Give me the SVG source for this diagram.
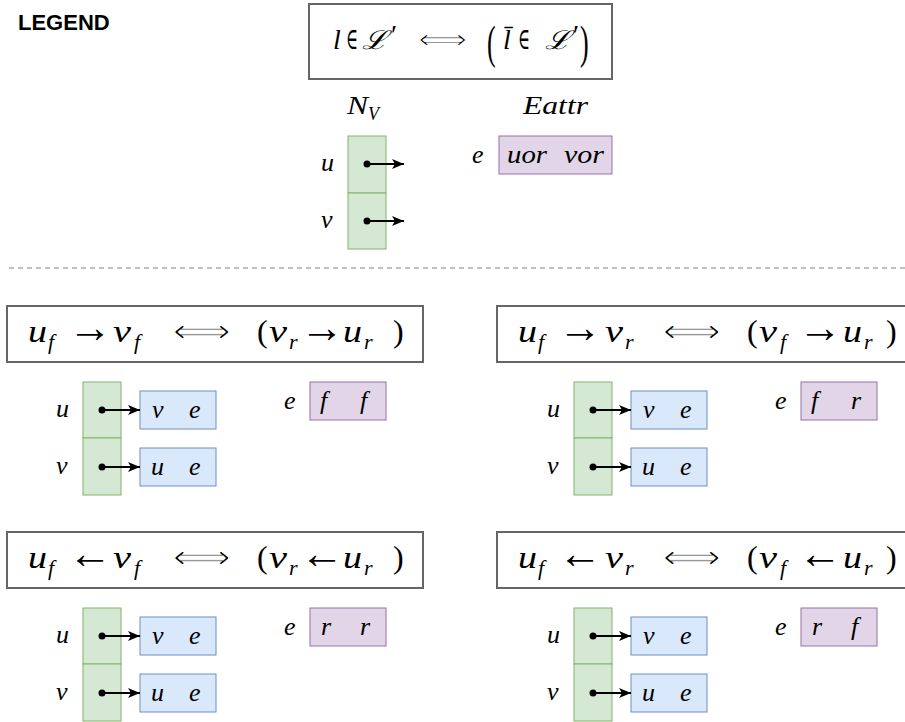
<svg xmlns="http://www.w3.org/2000/svg" width="905" height="722" viewBox="0 0 905 722">
<style>
.bg{fill:#ffffff}
.box{fill:#ffffff;stroke:#666666;stroke-width:2}
.nv{fill:#d5e8d4;stroke:#82b366;stroke-width:1}
.adj{fill:#dae8fc;stroke:#6c8ebf;stroke-width:1}
.attr{fill:#e1d5e7;stroke:#9673a6;stroke-width:1}
.m{font-family:"Liberation Serif","DejaVu Serif",serif;font-style:italic;fill:#000}
.op{font-family:"Liberation Serif","DejaVu Serif",serif;font-style:normal;fill:#000}
.sym{font-family:"DejaVu Sans","Noto Sans",sans-serif;font-style:normal;fill:#000;stroke:#fff;stroke-width:1.1px}
.h{font-size:32px}
.ar{font-size:44px}
.hs{font-size:22px}
.l{font-size:26px}
.leg{font-family:"Liberation Sans",Arial,sans-serif;font-weight:bold;font-size:22px;fill:#000}
.conn{stroke:#000;stroke-width:2;fill:none}
.dot{fill:#000}
.sep{stroke:#808080;stroke-width:1.2;stroke-dasharray:5 4;fill:none}
</style>
<defs>
<marker id="ah" markerWidth="13" markerHeight="11" refX="12" refY="5.5" orient="auto" markerUnits="userSpaceOnUse">
<path d="M0,0.5 L12,5.5 L0,10.5 L3,5.5 Z" fill="#000"/>
</marker>
</defs>
<rect class="bg" x="0" y="0" width="905" height="722"/>

<g id="legend-title"><text class="leg" x="18" y="30">LEGEND</text></g>

<g id="legend-header">
<rect class="box" x="309" y="4" width="303" height="75"/>
<text class="m" font-size="28" x="333" y="49">l</text>
<text class="op" font-size="30" x="346" y="49" textLength="12" lengthAdjust="spacingAndGlyphs">∈</text>
<text class="m" font-size="26" x="362" y="49" textLength="26" lengthAdjust="spacingAndGlyphs" font-family="DejaVu Serif, DejaVu Sans, serif">ℒ</text>
<text class="op" font-size="28" x="391" y="44">′</text>
<text class="sym" font-size="28" x="418" y="49" textLength="49" lengthAdjust="spacingAndGlyphs">⟺</text>
<text class="op" font-size="26" transform="translate(487,58) scale(1,1.8)">(</text>
<text class="m" font-size="28" x="503" y="49">l̄</text>
<text class="op" font-size="30" x="518" y="49" textLength="12" lengthAdjust="spacingAndGlyphs">∈</text>
<text class="m" font-size="26" x="545" y="49" textLength="26" lengthAdjust="spacingAndGlyphs" font-family="DejaVu Serif, DejaVu Sans, serif">ℒ</text>
<text class="op" font-size="28" x="573" y="44">′</text>
<text class="op" font-size="26" transform="translate(580,58) scale(1,1.8)">)</text>
</g>

<g id="legend-nv-title"><text class="m" font-size="26" x="347" y="114" textLength="21" lengthAdjust="spacingAndGlyphs">N</text><text class="m" font-size="18" x="368" y="120">V</text></g>
<g id="legend-eattr-title"><text class="m" font-size="26" x="523" y="114" textLength="65" lengthAdjust="spacingAndGlyphs">Eattr</text></g>

<g id="legend-nv">
<rect class="nv" x="348" y="136" width="38" height="57"/>
<rect class="nv" x="348" y="193" width="38" height="56"/>
<text class="m l" x="321" y="171">u</text>
<text class="m l" x="321" y="228">v</text>
</g>
<g id="legend-eattr">
<text class="m l" x="472" y="163">e</text>
<rect class="attr" x="499" y="136" width="113" height="38"/>
<text class="m l" x="507" y="163" textLength="40" lengthAdjust="spacingAndGlyphs">uor</text>
<text class="m l" x="564" y="163" textLength="40" lengthAdjust="spacingAndGlyphs">vor</text>
</g>

<g id="separator"><line class="sep" x1="9" y1="268" x2="905" y2="268"/></g>

<!-- Section 1 -->
<g id="s1-header">
<rect class="box" x="7" y="306" width="416" height="56"/>
<text class="m h" x="28" y="342" textLength="19" lengthAdjust="spacingAndGlyphs">u</text>
<text class="m hs" x="48" y="349">f</text>
<text class="op ar" x="68" y="342">→</text>
<text class="m h" x="113" y="342" textLength="18" lengthAdjust="spacingAndGlyphs">v</text>
<text class="m hs" x="134" y="349">f</text>
<text class="sym h" x="173" y="342" textLength="58" lengthAdjust="spacingAndGlyphs">⟺</text>
<text class="op h" x="257" y="342">(</text>
<text class="m h" x="269" y="342" textLength="18" lengthAdjust="spacingAndGlyphs">v</text>
<text class="m hs" x="289" y="349">r</text>
<text class="op ar" x="300" y="342">→</text>
<text class="m h" x="343" y="342" textLength="19" lengthAdjust="spacingAndGlyphs">u</text>
<text class="m hs" x="364" y="349">r</text>
<text class="op h" x="393" y="342">)</text>
</g>
<g id="s1-nv">
<rect class="nv" x="83" y="382" width="38" height="56"/>
<rect class="nv" x="83" y="438" width="38" height="57"/>
<text class="m l" x="56" y="417">u</text>
<text class="m l" x="56" y="474">v</text>
</g>
<g id="s1-adj-u"><rect class="adj" x="140" y="391" width="76" height="38"/><text class="m l" x="152" y="418">v</text><text class="m l" x="189" y="418">e</text></g>
<g id="s1-adj-v"><rect class="adj" x="140" y="448" width="76" height="38"/><text class="m l" x="151" y="475">u</text><text class="m l" x="189" y="475">e</text></g>
<g id="s1-eattr">
<text class="m l" x="284" y="409">e</text>
<rect class="attr" x="310" y="382" width="76" height="38"/>
<text class="m l" x="320" y="409">f</text><text class="m l" x="360" y="409">f</text>
</g>

<!-- Section 2 -->
<g id="s2-header">
<rect class="box" x="497" y="306" width="416" height="56"/>
<text class="m h" x="518" y="342" textLength="19" lengthAdjust="spacingAndGlyphs">u</text>
<text class="m hs" x="538" y="349">f</text>
<text class="op ar" x="558" y="342">→</text>
<text class="m h" x="605" y="342" textLength="18" lengthAdjust="spacingAndGlyphs">v</text>
<text class="m hs" x="625" y="349">r</text>
<text class="sym h" x="663" y="342" textLength="58" lengthAdjust="spacingAndGlyphs">⟺</text>
<text class="op h" x="747" y="342">(</text>
<text class="m h" x="759" y="342" textLength="18" lengthAdjust="spacingAndGlyphs">v</text>
<text class="m hs" x="780" y="349">f</text>
<text class="op ar" x="798" y="342">→</text>
<text class="m h" x="843" y="342" textLength="19" lengthAdjust="spacingAndGlyphs">u</text>
<text class="m hs" x="864" y="349">r</text>
<text class="op h" x="886" y="342">)</text>
</g>
<g id="s2-nv">
<rect class="nv" x="574" y="382" width="38" height="56"/>
<rect class="nv" x="574" y="438" width="38" height="57"/>
<text class="m l" x="547" y="417">u</text>
<text class="m l" x="547" y="474">v</text>
</g>
<g id="s2-adj-u"><rect class="adj" x="631" y="391" width="76" height="38"/><text class="m l" x="643" y="418">v</text><text class="m l" x="680" y="418">e</text></g>
<g id="s2-adj-v"><rect class="adj" x="631" y="448" width="76" height="38"/><text class="m l" x="642" y="475">u</text><text class="m l" x="680" y="475">e</text></g>
<g id="s2-eattr">
<text class="m l" x="775" y="409">e</text>
<rect class="attr" x="801" y="382" width="76" height="38"/>
<text class="m l" x="811" y="409">f</text><text class="m l" x="851" y="409">r</text>
</g>

<!-- Section 3 -->
<g id="s3-header">
<rect class="box" x="7" y="532" width="416" height="56"/>
<text class="m h" x="28" y="568" textLength="19" lengthAdjust="spacingAndGlyphs">u</text>
<text class="m hs" x="48" y="575">f</text>
<text class="op ar" x="68" y="568">←</text>
<text class="m h" x="113" y="568" textLength="18" lengthAdjust="spacingAndGlyphs">v</text>
<text class="m hs" x="134" y="575">f</text>
<text class="sym h" x="173" y="568" textLength="58" lengthAdjust="spacingAndGlyphs">⟺</text>
<text class="op h" x="257" y="568">(</text>
<text class="m h" x="269" y="568" textLength="18" lengthAdjust="spacingAndGlyphs">v</text>
<text class="m hs" x="289" y="575">r</text>
<text class="op ar" x="300" y="568">←</text>
<text class="m h" x="343" y="568" textLength="19" lengthAdjust="spacingAndGlyphs">u</text>
<text class="m hs" x="364" y="575">r</text>
<text class="op h" x="393" y="568">)</text>
</g>
<g id="s3-nv">
<rect class="nv" x="83" y="608" width="38" height="56"/>
<rect class="nv" x="83" y="664" width="38" height="57"/>
<text class="m l" x="56" y="643">u</text>
<text class="m l" x="56" y="700">v</text>
</g>
<g id="s3-adj-u"><rect class="adj" x="140" y="617" width="76" height="38"/><text class="m l" x="152" y="644">v</text><text class="m l" x="189" y="644">e</text></g>
<g id="s3-adj-v"><rect class="adj" x="140" y="674" width="76" height="38"/><text class="m l" x="151" y="701">u</text><text class="m l" x="189" y="701">e</text></g>
<g id="s3-eattr">
<text class="m l" x="284" y="635">e</text>
<rect class="attr" x="310" y="608" width="76" height="38"/>
<text class="m l" x="321" y="635">r</text><text class="m l" x="360" y="635">r</text>
</g>

<!-- Section 4 -->
<g id="s4-header">
<rect class="box" x="497" y="532" width="416" height="56"/>
<text class="m h" x="518" y="568" textLength="19" lengthAdjust="spacingAndGlyphs">u</text>
<text class="m hs" x="538" y="575">f</text>
<text class="op ar" x="558" y="568">←</text>
<text class="m h" x="605" y="568" textLength="18" lengthAdjust="spacingAndGlyphs">v</text>
<text class="m hs" x="625" y="575">r</text>
<text class="sym h" x="663" y="568" textLength="58" lengthAdjust="spacingAndGlyphs">⟺</text>
<text class="op h" x="747" y="568">(</text>
<text class="m h" x="759" y="568" textLength="18" lengthAdjust="spacingAndGlyphs">v</text>
<text class="m hs" x="780" y="575">f</text>
<text class="op ar" x="798" y="568">←</text>
<text class="m h" x="843" y="568" textLength="19" lengthAdjust="spacingAndGlyphs">u</text>
<text class="m hs" x="864" y="575">r</text>
<text class="op h" x="886" y="568">)</text>
</g>
<g id="s4-nv">
<rect class="nv" x="574" y="608" width="38" height="56"/>
<rect class="nv" x="574" y="664" width="38" height="57"/>
<text class="m l" x="547" y="643">u</text>
<text class="m l" x="547" y="700">v</text>
</g>
<g id="s4-adj-u"><rect class="adj" x="631" y="617" width="76" height="38"/><text class="m l" x="643" y="644">v</text><text class="m l" x="680" y="644">e</text></g>
<g id="s4-adj-v"><rect class="adj" x="631" y="674" width="76" height="38"/><text class="m l" x="642" y="701">u</text><text class="m l" x="680" y="701">e</text></g>
<g id="s4-eattr">
<text class="m l" x="775" y="635">e</text>
<rect class="attr" x="801" y="608" width="76" height="38"/>
<text class="m l" x="812" y="635">r</text><text class="m l" x="851" y="635">f</text>
</g>

<g id="connectors">
<circle class="dot" cx="367" cy="164" r="3.5"/><line class="conn" x1="367" y1="164" x2="404" y2="164" marker-end="url(#ah)"/>
<circle class="dot" cx="367" cy="221" r="3.5"/><line class="conn" x1="367" y1="221" x2="404" y2="221" marker-end="url(#ah)"/>
<circle class="dot" cx="102" cy="410" r="3.5"/><line class="conn" x1="102" y1="410" x2="140" y2="410" marker-end="url(#ah)"/>
<circle class="dot" cx="102" cy="467" r="3.5"/><line class="conn" x1="102" y1="467" x2="140" y2="467" marker-end="url(#ah)"/>
<circle class="dot" cx="593" cy="410" r="3.5"/><line class="conn" x1="593" y1="410" x2="631" y2="410" marker-end="url(#ah)"/>
<circle class="dot" cx="593" cy="467" r="3.5"/><line class="conn" x1="593" y1="467" x2="631" y2="467" marker-end="url(#ah)"/>
<circle class="dot" cx="102" cy="636" r="3.5"/><line class="conn" x1="102" y1="636" x2="140" y2="636" marker-end="url(#ah)"/>
<circle class="dot" cx="102" cy="693" r="3.5"/><line class="conn" x1="102" y1="693" x2="140" y2="693" marker-end="url(#ah)"/>
<circle class="dot" cx="593" cy="636" r="3.5"/><line class="conn" x1="593" y1="636" x2="631" y2="636" marker-end="url(#ah)"/>
<circle class="dot" cx="593" cy="693" r="3.5"/><line class="conn" x1="593" y1="693" x2="631" y2="693" marker-end="url(#ah)"/>
</g>
</svg>
